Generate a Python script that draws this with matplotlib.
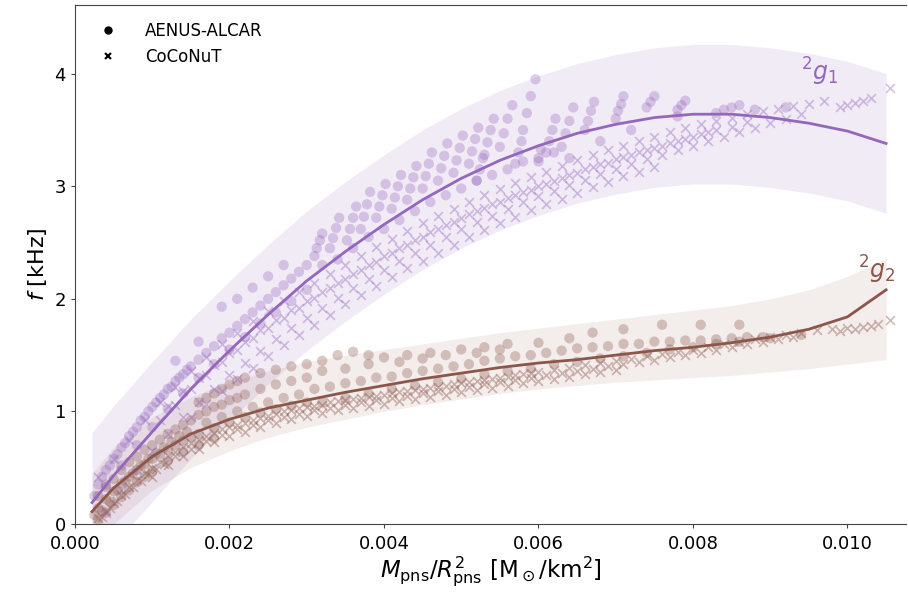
import numpy as np
import matplotlib
matplotlib.use("Agg")
import matplotlib.pyplot as plt
from matplotlib.lines import Line2D

# fitted relations and their bands
fit_x = [0.00022, 0.0005, 0.001, 0.0015, 0.002, 0.0025, 0.003, 0.0035, 0.004, 0.0045, 0.005,
         0.0055, 0.006, 0.0065, 0.007, 0.0075, 0.008, 0.0085, 0.009, 0.0095, 0.010, 0.0105]
fit_g1 = [0.19, 0.43, 0.82, 1.20, 1.54, 1.86, 2.16, 2.42, 2.66, 2.88, 3.07,
          3.23, 3.36, 3.47, 3.55, 3.61, 3.64, 3.64, 3.61, 3.56, 3.49, 3.38]
band_g1_hi = [0.81, 1.05, 1.44, 1.82, 2.16, 2.48, 2.78, 3.04, 3.28, 3.50, 3.69,
              3.85, 3.98, 4.09, 4.17, 4.23, 4.26, 4.26, 4.23, 4.18, 4.11, 4.00]
band_g1_lo = [-0.43, -0.19, 0.20, 0.58, 0.92, 1.24, 1.54, 1.80, 2.04, 2.26, 2.45,
              2.61, 2.74, 2.85, 2.93, 2.99, 3.02, 3.02, 2.99, 2.94, 2.87, 2.76]
fit_g2 = [0.11, 0.32, 0.60, 0.80, 0.93, 1.03, 1.10, 1.17, 1.23, 1.29, 1.34,
          1.39, 1.43, 1.46, 1.50, 1.54, 1.57, 1.61, 1.66, 1.73, 1.84, 2.08]
band_g2_hi = [0.45, 0.68, 0.95, 1.13, 1.26, 1.36, 1.44, 1.50, 1.55, 1.60, 1.65,
              1.70, 1.74, 1.78, 1.82, 1.86, 1.90, 1.94, 2.00, 2.08, 2.20, 2.36]
band_g2_lo = [-0.20, 0.00, 0.30, 0.50, 0.65, 0.77, 0.86, 0.93, 1.00, 1.06, 1.11,
              1.16, 1.20, 1.23, 1.26, 1.28, 1.30, 1.32, 1.35, 1.38, 1.42, 1.46]

# AENUS-ALCAR, 2g1 (circles)
aenus_g1 = [
    (0.00025, 0.25), (0.0003, 0.35), (0.00035, 0.42), (0.0004, 0.48), (0.00045, 0.52),
    (0.0005, 0.58), (0.00055, 0.62), (0.0006, 0.68), (0.00065, 0.72), (0.0007, 0.78),
    (0.00075, 0.82), (0.0008, 0.86), (0.00085, 0.92), (0.0009, 0.95), (0.00095, 1.00),
    (0.001, 1.04), (0.00105, 1.08), (0.0011, 1.12), (0.00115, 1.15), (0.0012, 1.20),
    (0.00125, 1.22), (0.0013, 1.27), (0.00135, 1.30), (0.0014, 1.33), (0.00145, 1.37),
    (0.0015, 1.40), (0.0016, 1.46), (0.0017, 1.52), (0.0018, 1.58), (0.0019, 1.65),
    (0.002, 1.70), (0.0021, 1.76), (0.0022, 1.82), (0.0023, 1.88), (0.0024, 1.94),
    (0.0025, 2.00), (0.0026, 2.06), (0.0027, 2.12), (0.0028, 2.18), (0.0029, 2.24), (0.003, 2.30),
    (0.0004, 0.35), (0.0006, 0.52), (0.0008, 0.70), (0.001, 0.86), (0.0012, 1.02),
    (0.0014, 1.16), (0.0016, 1.30), (0.0018, 1.42), (0.002, 1.55), (0.0022, 1.66),
    (0.0024, 1.78), (0.0026, 1.88), (0.0028, 1.98), (0.003, 2.08),
    (0.0013, 1.45), (0.0016, 1.62), (0.0019, 1.93), (0.0021, 2.00), (0.0023, 2.10),
    (0.0025, 2.20), (0.0027, 2.30),
    (0.00310, 2.38), (0.00313, 2.45), (0.00317, 2.52), (0.00320, 2.58),
    (0.00330, 2.45), (0.00334, 2.54), (0.00338, 2.63), (0.00342, 2.72),
    (0.00352, 2.52), (0.00356, 2.62), (0.00360, 2.72), (0.00364, 2.82),
    (0.00370, 2.62), (0.00374, 2.73), (0.00378, 2.84), (0.00382, 2.95),
    (0.00390, 2.72), (0.00394, 2.82), (0.00398, 2.92), (0.00402, 3.02),
    (0.00410, 2.80), (0.00414, 2.90), (0.00418, 3.00), (0.00422, 3.10),
    (0.00430, 2.88), (0.00434, 2.98), (0.00438, 3.08), (0.00442, 3.18),
    (0.00450, 2.98), (0.00454, 3.09), (0.00458, 3.20), (0.00462, 3.30),
    (0.00470, 3.05), (0.00474, 3.16), (0.00478, 3.27), (0.00482, 3.38),
    (0.00490, 3.12), (0.00494, 3.23), (0.00498, 3.34), (0.00502, 3.45),
    (0.00510, 3.20), (0.00514, 3.31), (0.00518, 3.42), (0.00522, 3.52),
    (0.00530, 3.28), (0.00534, 3.39), (0.00538, 3.50), (0.00542, 3.60),
    (0.00550, 3.35), (0.00555, 3.47), (0.00560, 3.60), (0.00566, 3.72),
    (0.00580, 3.50), (0.00585, 3.65), (0.00590, 3.80), (0.00596, 3.95),
    (0.00610, 3.30), (0.00614, 3.40), (0.00618, 3.50), (0.00622, 3.60),
    (0.00630, 3.35), (0.00635, 3.47), (0.00640, 3.58), (0.00645, 3.70),
    (0.00660, 3.50), (0.00664, 3.58), (0.00668, 3.67), (0.00672, 3.75),
    (0.00700, 3.60), (0.00703, 3.67), (0.00707, 3.73), (0.00710, 3.80),
    (0.00740, 3.70), (0.00745, 3.75), (0.00750, 3.80),
    (0.00780, 3.68), (0.00785, 3.72), (0.00790, 3.76),
    (0.00840, 3.68), (0.00850, 3.70), (0.00860, 3.72),
    (0.00520, 3.05), (0.00524, 3.15), (0.00528, 3.25),
    (0.00570, 3.20), (0.00574, 3.30), (0.00578, 3.40),
    (0.00600, 3.25), (0.00603, 3.33),
    (0.0032, 2.30), (0.0034, 2.35), (0.0036, 2.45), (0.0038, 2.55), (0.004, 2.62),
    (0.0042, 2.70), (0.0044, 2.78), (0.0046, 2.86), (0.0048, 2.92), (0.005, 2.98),
    (0.0052, 3.05), (0.0054, 3.10), (0.0056, 3.15), (0.0058, 3.22), (0.006, 3.22),
    (0.0062, 3.30), (0.0064, 3.25), (0.0068, 3.40), (0.0072, 3.50), (0.0078, 3.62),
    (0.0083, 3.65), (0.0088, 3.68), (0.0092, 3.70),
]

# CoCoNuT, 2g1 (crosses)
coconut_g1 = [
    (0.0003, 0.42), (0.0005, 0.58), (0.0007, 0.75), (0.0009, 0.92), (0.0011, 1.08),
    (0.0013, 1.22), (0.0015, 1.36), (0.0017, 1.48), (0.0019, 1.60), (0.0021, 1.70),
    (0.0023, 1.80), (0.0025, 1.89), (0.0027, 1.98), (0.0029, 2.06), (0.0031, 2.14),
    (0.0033, 2.22), (0.0035, 2.30), (0.0037, 2.38), (0.0039, 2.46), (0.0041, 2.53),
    (0.0043, 2.60), (0.0045, 2.67), (0.0047, 2.74), (0.0049, 2.80), (0.0051, 2.86),
    (0.0053, 2.92), (0.0055, 2.98), (0.0057, 3.03), (0.0059, 3.08), (0.0061, 3.13),
    (0.0063, 3.18), (0.0065, 3.23), (0.0067, 3.28), (0.0069, 3.32), (0.0071, 3.36),
    (0.0073, 3.40), (0.0075, 3.44), (0.0077, 3.48), (0.0079, 3.52), (0.0081, 3.55),
    (0.0083, 3.58), (0.0085, 3.61), (0.0087, 3.64), (0.0089, 3.67), (0.0091, 3.69),
    (0.0093, 3.71), (0.0095, 3.73), (0.0097, 3.76), (0.0099, 3.70), (0.0100, 3.72),
    (0.0101, 3.74), (0.0102, 3.76), (0.0103, 3.78), (0.01055, 3.87),
    (0.0004, 0.10), (0.0006, 0.30), (0.0008, 0.48), (0.001, 0.65), (0.0012, 0.80),
    (0.0014, 0.95), (0.0016, 1.08), (0.0018, 1.20), (0.002, 1.32), (0.0022, 1.43),
    (0.0024, 1.54), (0.0026, 1.64), (0.0028, 1.74), (0.003, 1.83), (0.0032, 1.92),
    (0.0034, 2.01), (0.0036, 2.10), (0.0038, 2.18), (0.004, 2.26), (0.0042, 2.34),
    (0.0044, 2.41), (0.0046, 2.48), (0.0048, 2.55), (0.005, 2.62), (0.0052, 2.68),
    (0.0054, 2.74), (0.0056, 2.80), (0.0058, 2.86), (0.006, 2.91), (0.0062, 2.96),
    (0.0064, 3.01), (0.0066, 3.06), (0.0068, 3.11), (0.007, 3.15), (0.0072, 3.20),
    (0.0074, 3.24), (0.0076, 3.28), (0.0078, 3.32), (0.008, 3.36), (0.0082, 3.40),
    (0.0084, 3.44), (0.0086, 3.48), (0.0088, 3.52), (0.009, 3.56), (0.0092, 3.60),
    (0.0094, 3.64),
    (0.0011, 0.92), (0.0013, 1.06), (0.0015, 1.20), (0.0017, 1.32), (0.0019, 1.44),
    (0.0021, 1.55), (0.0023, 1.65), (0.0025, 1.74), (0.0027, 1.83), (0.0029, 1.92),
    (0.0031, 2.01), (0.0033, 2.10), (0.0035, 2.18), (0.0037, 2.26), (0.0039, 2.33),
    (0.0041, 2.41), (0.0043, 2.48), (0.0045, 2.55), (0.0047, 2.62), (0.0049, 2.68),
    (0.0051, 2.75), (0.0053, 2.81), (0.0055, 2.86), (0.0057, 2.92), (0.0059, 2.97),
    (0.0061, 3.02), (0.0063, 3.07), (0.0065, 3.12), (0.0067, 3.17), (0.0069, 3.21),
    (0.0071, 3.26), (0.0073, 3.30), (0.0075, 3.34), (0.0077, 3.38), (0.0079, 3.42),
    (0.0081, 3.46), (0.0083, 3.50), (0.0085, 3.53), (0.0087, 3.57),
    (0.0012, 1.05), (0.0014, 1.18), (0.0016, 1.30), (0.0018, 1.41), (0.002, 1.52),
    (0.0022, 1.62), (0.0024, 1.72), (0.0026, 1.81), (0.0028, 1.90), (0.003, 1.98),
    (0.0032, 2.06), (0.0034, 2.14), (0.0036, 2.22), (0.0038, 2.30), (0.004, 2.38),
    (0.0042, 2.45), (0.0044, 2.52), (0.0046, 2.59), (0.0048, 2.66), (0.005, 2.72),
    (0.0052, 2.78), (0.0054, 2.84), (0.0056, 2.90), (0.0058, 2.95), (0.006, 3.00),
    (0.0062, 3.05), (0.0064, 3.10), (0.0066, 3.15), (0.0068, 3.20), (0.007, 3.24),
    (0.0072, 3.28), (0.0074, 3.32), (0.0076, 3.36), (0.0078, 3.40), (0.008, 3.44),
    (0.0082, 3.48),
    (0.0015, 0.95), (0.0017, 1.07), (0.0019, 1.18), (0.0021, 1.29), (0.0023, 1.39),
    (0.0025, 1.49), (0.0027, 1.59), (0.0029, 1.68), (0.0031, 1.77), (0.0033, 1.86),
    (0.0035, 1.95), (0.0037, 2.03), (0.0039, 2.11), (0.0041, 2.19), (0.0043, 2.27),
    (0.0045, 2.34), (0.0047, 2.41), (0.0049, 2.48), (0.0051, 2.55), (0.0053, 2.61),
    (0.0055, 2.67), (0.0057, 2.73), (0.0059, 2.79), (0.0061, 2.84), (0.0063, 2.89),
    (0.0065, 2.94), (0.0067, 2.99), (0.0069, 3.04), (0.0071, 3.09), (0.0073, 3.13),
    (0.0075, 3.17),
]

# AENUS-ALCAR, 2g2 (circles)
aenus_g2 = [
    (0.00025, 0.08), (0.0003, 0.14), (0.0004, 0.22), (0.0005, 0.29), (0.0006, 0.36),
    (0.0007, 0.42), (0.0008, 0.48), (0.0009, 0.53), (0.001, 0.58), (0.0011, 0.62),
    (0.0012, 0.66), (0.0013, 0.70), (0.0014, 0.74), (0.0015, 0.77), (0.0016, 0.80),
    (0.0018, 0.85), (0.002, 0.90), (0.0022, 0.95), (0.0024, 0.99), (0.0026, 1.02),
    (0.0028, 1.05), (0.003, 1.08),
    (0.0003, 0.25), (0.0004, 0.33), (0.0005, 0.40), (0.0006, 0.48), (0.0007, 0.55),
    (0.0008, 0.60), (0.0009, 0.66), (0.001, 0.70), (0.0011, 0.75), (0.0012, 0.80),
    (0.0013, 0.84), (0.0014, 0.88), (0.0015, 0.92), (0.0016, 0.97), (0.0017, 1.00),
    (0.0018, 1.04), (0.0019, 1.06), (0.002, 1.10), (0.0021, 1.12), (0.0022, 1.15),
    (0.0024, 1.20), (0.0026, 1.24), (0.0028, 1.27), (0.003, 1.30),
    (0.0003, 0.04), (0.0004, 0.10), (0.0005, 0.17), (0.0006, 0.24), (0.0007, 0.30),
    (0.0008, 0.37), (0.0009, 0.42), (0.001, 0.47), (0.0012, 0.56), (0.0014, 0.64),
    (0.0016, 0.70), (0.0018, 0.76),
    (0.00035, 0.12), (0.00045, 0.20), (0.00055, 0.30), (0.00065, 0.38), (0.00075, 0.45),
    (0.00085, 0.52), (0.00095, 0.58), (0.00105, 0.63), (0.00115, 0.68), (0.00125, 0.73),
    (0.00135, 0.78), (0.00145, 0.82), (0.0017, 0.90), (0.0019, 0.95), (0.0021, 1.00),
    (0.0023, 1.04), (0.0025, 1.08), (0.0027, 1.12), (0.0029, 1.15),
    (0.0016, 1.08), (0.0017, 1.12), (0.0018, 1.16), (0.0019, 1.20), (0.002, 1.24),
    (0.0021, 1.27), (0.0022, 1.30), (0.0024, 1.34), (0.0026, 1.37), (0.0028, 1.40),
    (0.003, 1.42), (0.0032, 1.45), (0.0034, 1.50), (0.0036, 1.53), (0.0038, 1.50),
    (0.004, 1.48), (0.0043, 1.50), (0.0046, 1.52), (0.005, 1.55), (0.0053, 1.57),
    (0.0056, 1.60),
    (0.0031, 1.20), (0.0033, 1.22), (0.0035, 1.25), (0.0037, 1.27), (0.0039, 1.30),
    (0.0041, 1.31), (0.0043, 1.34), (0.0045, 1.36), (0.0047, 1.38), (0.0049, 1.40),
    (0.0051, 1.42), (0.0053, 1.45), (0.0055, 1.47), (0.0057, 1.49), (0.0059, 1.50),
    (0.0061, 1.52), (0.0063, 1.54), (0.0065, 1.56), (0.0067, 1.57), (0.0069, 1.58),
    (0.0071, 1.60), (0.0073, 1.60), (0.0075, 1.62), (0.0077, 1.62), (0.0079, 1.63),
    (0.0081, 1.63), (0.0083, 1.64), (0.0085, 1.65), (0.0087, 1.66), (0.0089, 1.66),
    (0.0032, 1.36), (0.0035, 1.38), (0.0038, 1.42), (0.0042, 1.44), (0.0045, 1.47),
    (0.0048, 1.50), (0.0052, 1.52), (0.0055, 1.55), (0.006, 1.61), (0.0064, 1.65),
    (0.0067, 1.70), (0.0071, 1.73), (0.0076, 1.77), (0.0081, 1.77), (0.0086, 1.77),
    (0.0032, 1.08), (0.0035, 1.12), (0.0038, 1.16), (0.0041, 1.20), (0.0044, 1.23),
    (0.0047, 1.26), (0.005, 1.29), (0.0053, 1.33), (0.0056, 1.36), (0.0059, 1.38),
    (0.0062, 1.42), (0.0065, 1.44), (0.0068, 1.47), (0.0071, 1.49), (0.0074, 1.52),
    (0.0077, 1.55), (0.008, 1.57), (0.0083, 1.60), (0.0086, 1.62), (0.009, 1.65),
    (0.0094, 1.68),
]

# CoCoNuT, 2g2 (crosses)
coconut_g2 = [
    (0.0003, 0.05), (0.0004, 0.12), (0.0005, 0.19), (0.0006, 0.26), (0.0007, 0.33),
    (0.0008, 0.39), (0.0009, 0.45), (0.001, 0.50), (0.0011, 0.55), (0.0012, 0.60),
    (0.0013, 0.64), (0.0014, 0.68), (0.0015, 0.72), (0.0016, 0.75), (0.0017, 0.78),
    (0.0018, 0.81), (0.0019, 0.84), (0.002, 0.86), (0.0021, 0.88), (0.0022, 0.90),
    (0.0023, 0.92), (0.0024, 0.94), (0.0025, 0.96), (0.0026, 0.98), (0.0027, 1.00),
    (0.0028, 1.01), (0.0029, 1.03), (0.003, 1.04), (0.0031, 1.05), (0.0032, 1.06),
    (0.0033, 1.08), (0.0034, 1.09), (0.0035, 1.10), (0.0036, 1.11), (0.0037, 1.12),
    (0.0038, 1.13), (0.0039, 1.14), (0.004, 1.15), (0.0041, 1.16), (0.0042, 1.17),
    (0.0043, 1.18), (0.0044, 1.19), (0.0045, 1.20), (0.0046, 1.21), (0.0047, 1.22),
    (0.0048, 1.23), (0.0049, 1.24), (0.005, 1.25), (0.0051, 1.26), (0.0052, 1.27),
    (0.0053, 1.28), (0.0054, 1.29), (0.0055, 1.30), (0.0056, 1.31), (0.0057, 1.32),
    (0.0058, 1.33), (0.0059, 1.34), (0.006, 1.35), (0.0062, 1.37), (0.0064, 1.39),
    (0.0066, 1.41), (0.0068, 1.43), (0.007, 1.45), (0.0072, 1.47), (0.0074, 1.49),
    (0.0076, 1.51), (0.0078, 1.53), (0.008, 1.55), (0.0082, 1.57), (0.0084, 1.60),
    (0.0086, 1.62), (0.0088, 1.64), (0.009, 1.66), (0.0092, 1.68), (0.0094, 1.70),
    (0.001, 0.42), (0.0012, 0.52), (0.0014, 0.60), (0.0016, 0.67), (0.0018, 0.73),
    (0.002, 0.78), (0.0022, 0.82), (0.0024, 0.86), (0.0026, 0.90), (0.0028, 0.93),
    (0.003, 0.96), (0.0032, 0.99), (0.0034, 1.01), (0.0036, 1.03), (0.0038, 1.05),
    (0.004, 1.07), (0.0042, 1.09), (0.0044, 1.11), (0.0046, 1.13), (0.0048, 1.15),
    (0.005, 1.17), (0.0052, 1.19), (0.0054, 1.21), (0.0056, 1.23), (0.0058, 1.25),
    (0.006, 1.27), (0.0062, 1.29), (0.0064, 1.31), (0.0066, 1.33), (0.0068, 1.35),
    (0.007, 1.37),
    (0.00035, 0.06), (0.00045, 0.14), (0.00055, 0.20), (0.00065, 0.27), (0.00075, 0.33),
    (0.00085, 0.38), (0.00095, 0.44), (0.00105, 0.49), (0.00115, 0.53), (0.0013, 0.60),
    (0.0015, 0.67), (0.0017, 0.74), (0.0019, 0.79), (0.0021, 0.84), (0.0023, 0.88),
    (0.0025, 0.92), (0.0027, 0.95), (0.0029, 0.98), (0.0031, 1.01), (0.0033, 1.03),
    (0.0035, 1.06), (0.0037, 1.08), (0.0039, 1.10), (0.0041, 1.12), (0.0043, 1.14),
    (0.0045, 1.16), (0.0047, 1.18), (0.0049, 1.20), (0.0051, 1.22), (0.0053, 1.24),
    (0.0055, 1.26), (0.0057, 1.28), (0.0059, 1.30), (0.0061, 1.32), (0.0063, 1.34),
    (0.0065, 1.36), (0.0067, 1.38), (0.0069, 1.40), (0.0071, 1.42), (0.0073, 1.44),
    (0.0075, 1.46), (0.0077, 1.48), (0.0079, 1.50), (0.0081, 1.52), (0.0083, 1.55),
    (0.0085, 1.57), (0.0087, 1.60), (0.0089, 1.62), (0.0091, 1.64), (0.0093, 1.66),
    (0.0096, 1.72), (0.0098, 1.73), (0.0099, 1.71), (0.0100, 1.74), (0.0101, 1.73),
    (0.0102, 1.75), (0.0103, 1.76), (0.0104, 1.78), (0.01055, 1.81),
]

purple = "#9467bd"
brown = "#8c564b"

fig = plt.figure(figsize=(9.08, 5.95), dpi=100)
ax = fig.add_axes([0.0826, 0.1193, 0.9154, 0.8723])

ax.fill_between(fit_x, band_g1_lo, band_g1_hi, color=purple, alpha=0.13, lw=0, zorder=1)
ax.fill_between(fit_x, band_g2_lo, band_g2_hi, color=brown, alpha=0.1, lw=0, zorder=1)

for pts, col in [(aenus_g1, purple), (aenus_g2, brown)]:
    a = np.array(pts)
    ax.scatter(a[:, 0], a[:, 1], s=55, marker="o", color=col, alpha=0.32,
               edgecolors="none", zorder=2)
for pts, col in [(coconut_g1, purple), (coconut_g2, brown)]:
    a = np.array(pts)
    ax.scatter(a[:, 0], a[:, 1], s=40, marker="x", color=col, alpha=0.4,
               linewidths=1.2, zorder=2)

ax.plot(fit_x, fit_g1, color=purple, lw=2, zorder=3)
ax.plot(fit_x, fit_g2, color=brown, lw=2, zorder=3)

ax.text(0.0094, 4.02, r"$^2g_1$", color=purple, fontsize=17, ha="left", va="center")
ax.text(0.01014, 2.26, r"$^2g_2$", color=brown, fontsize=17, ha="left", va="center")

handles = [Line2D([], [], ls="none", marker="o", color="k", markersize=5),
           Line2D([], [], ls="none", marker="x", color="k", markersize=5, mew=1.5)]
ax.legend(handles, ["AENUS-ALCAR", "CoCoNuT"], loc="upper left", frameon=False,
          fontsize=12, handletextpad=1.2, borderaxespad=0.6)

ax.set_xlim(0, 0.01076)
ax.set_ylim(0, 4.61)
ax.set_xticks([0.0, 0.002, 0.004, 0.006, 0.008, 0.010])
ax.set_xticklabels(["0.000", "0.002", "0.004", "0.006", "0.008", "0.010"])
ax.set_yticks([0, 1, 2, 3, 4])
ax.tick_params(labelsize=13, length=3, color="#444444")
ax.tick_params(axis="x", pad=5)
for sp in ax.spines.values():
    sp.set_color("#444444")
ax.spines["right"].set_visible(False)

ax.set_xlabel(r"$M_{\rm pns}/R_{\rm pns}^2\ [{\rm M}_\odot/{\rm km}^2]$", fontsize=16.5,
              labelpad=1)
ax.set_ylabel(r"$f$ [kHz]", fontsize=16)

fig.savefig("out.png", dpi=100)
